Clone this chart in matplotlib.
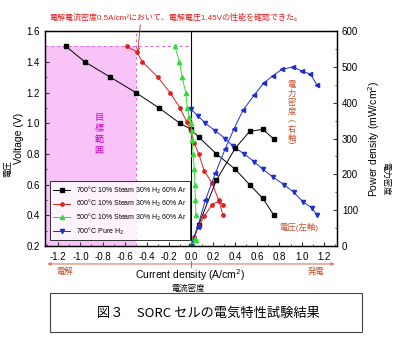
import numpy as np
import matplotlib
matplotlib.use('Agg')
import matplotlib.pyplot as plt
from matplotlib.ticker import MultipleLocator, FormatStrFormatter
from matplotlib.patches import FancyArrowPatch, Rectangle

plt.rcParams['font.family'] = ['Liberation Sans', 'Noto Sans CJK JP', 'DejaVu Sans']

# voltage curves (left axis)
x_black = [-1.13, -0.96, -0.73, -0.50, -0.29, -0.10, 0.0, 0.07, 0.23, 0.40, 0.53, 0.65, 0.75]
v_black = [1.50, 1.40, 1.30, 1.20, 1.10, 1.00, 0.96, 0.91, 0.80, 0.70, 0.60, 0.51, 0.40]
x_red = [-0.58, -0.49, -0.44, -0.30, -0.19, -0.10, -0.04, 0.0, 0.03, 0.07, 0.12, 0.19, 0.25, 0.29]
v_red = [1.50, 1.465, 1.40, 1.30, 1.20, 1.10, 1.01, 0.95, 0.87, 0.80, 0.69, 0.61, 0.50, 0.40]
x_green = [-0.145, -0.105, -0.08, -0.048, -0.033, -0.015, 0.0, 0.005, 0.01, 0.02, 0.03, 0.035, 0.04, 0.045]
v_green = [1.50, 1.40, 1.30, 1.20, 1.10, 1.04, 1.00, 0.95, 0.89, 0.80, 0.70, 0.60, 0.50, 0.40]
x_blue = [0.0, 0.06, 0.13, 0.22, 0.31, 0.38, 0.48, 0.57, 0.65, 0.74, 0.84, 0.93, 1.01, 1.09, 1.14]
v_blue = [1.09, 1.05, 1.00, 0.95, 0.90, 0.85, 0.80, 0.75, 0.70, 0.65, 0.60, 0.55, 0.49, 0.45, 0.40]

# power density curves (right axis)
xp_black = [0.0, 0.07, 0.23, 0.40, 0.53, 0.65, 0.75]
p_black = [0, 60, 184, 273, 320, 326, 298]
xp_red = [0.0, 0.03, 0.07, 0.12, 0.19, 0.25, 0.29]
p_red = [0, 26, 56, 83, 116, 125, 116]
xp_green = [0.0, 0.005, 0.01, 0.02, 0.03, 0.035, 0.04, 0.045]
p_green = [0, 5, 9, 16, 21, 21, 20, 18]
xp_blue = [0.0, 0.06, 0.13, 0.22, 0.31, 0.39, 0.47, 0.57, 0.66, 0.74, 0.82, 0.92, 1.00, 1.08, 1.14]
p_blue = [0, 54, 128, 203, 272, 328, 379, 421, 456, 475, 493, 500, 489, 480, 449]

labels = ['700°C 10% Steam 30% H$_2$ 60% Ar',
          '600°C 10% Steam 30% H$_2$ 60% Ar',
          '500°C 10% Steam 30% H$_2$ 60% Ar',
          '700°C Pure H$_2$']

fig = plt.figure(figsize=(4, 3.38), dpi=100)
ax = fig.add_axes([0.1125, 0.272, 0.73, 0.636])
ax2 = ax.twinx()

# target region
ax.fill_between([-1.32, -0.5], 0.2, 1.5, color='#f8c4f8', lw=0)
ax.plot([-1.32, 0.0], [1.5, 1.5], ls=(0, (3, 3)), color='#dd66dd', lw=0.7)
ax.plot([-0.5, -0.5], [0.2, 1.6], ls=(0, (3, 3)), color='#dd66dd', lw=0.7)
ax.axvline(0, color='black', lw=0.8)

ms = 3
lb, = ax.plot(x_black, v_black, '-s', color='black', lw=0.7, ms=ms*0.8)
lr, = ax.plot(x_red, v_red, '-o', color='#e02020', lw=0.7, ms=ms*0.8)
lg, = ax.plot(x_green, v_green, '-^', color='#30dd30', lw=0.7, ms=ms)
lbl, = ax.plot(x_blue, v_blue, '-v', color='#1f2fd0', lw=0.7, ms=ms)

ax2.plot(xp_black, p_black, '-s', color='black', lw=0.7, ms=ms*0.8)
ax2.plot(xp_red, p_red, '-o', color='#e02020', lw=0.7, ms=ms*0.8)
ax2.plot(xp_green, p_green, '-^', color='#30dd30', lw=0.7, ms=ms)
ax2.plot(xp_blue, p_blue, '-<', color='#1f2fd0', lw=0.7, ms=ms)

ax.set_xlim(-1.32, 1.32)
ax.set_ylim(0.2, 1.6)
ax2.set_ylim(0, 600)
ax.xaxis.set_major_locator(MultipleLocator(0.2))
ax.xaxis.set_minor_locator(MultipleLocator(0.1))
ax.xaxis.set_major_formatter(FormatStrFormatter('%.1f'))
ax.yaxis.set_major_locator(MultipleLocator(0.2))
ax.yaxis.set_minor_locator(MultipleLocator(0.1))
ax.yaxis.set_major_formatter(FormatStrFormatter('%.1f'))
ax2.yaxis.set_major_locator(MultipleLocator(100))
ax2.yaxis.set_minor_locator(MultipleLocator(50))
for a in (ax, ax2):
    a.tick_params(which='both', direction='in', labelsize=7, color='#333333')
    a.tick_params(which='major', length=3)
    a.tick_params(which='minor', length=1.5)
    for s in a.spines.values():
        s.set_linewidth(0.9)
ax.tick_params(axis='x', pad=4)

leg = ax2.legend([lb, lr, lg, lbl], labels, loc='upper left', bbox_to_anchor=(0.004, 0.318),
                 fontsize=5, frameon=True, fancybox=False, edgecolor='black',
                 handlelength=2.5, borderpad=0.5, labelspacing=0.35)
leg.get_frame().set_linewidth(0.7)

# annotations inside plot
ax.annotate('電解電流密度0.5A/cm²において、電解電圧1.45Vの性能を確認できた。',
            xy=(-0.48, 1.465), xytext=(-1.28, 1.66), color='#e02020', fontsize=5.8,
            annotation_clip=False, va='bottom',
            arrowprops=dict(arrowstyle='->', color='#c03030', lw=0.6,
                            relpos=(0.36, 0.0), shrinkA=0, shrinkB=0))

# vertical (stacked) texts, one character per line
for i, ch in enumerate('目標範囲'):
    ax.text(-0.83, 1.04 - i * 0.072, ch, color='#cc00cc', fontsize=6.5,
            ha='center', va='center')
for i, ch in enumerate('電力密度︵右軸︶'):
    ax2.text(0.91, 450 - i * 25, ch, color='#c8502a', fontsize=6,
             ha='center', va='center')
ax.text(0.975, 0.32, '電圧(左軸)', color='#c8502a', fontsize=6, ha='center', va='center')

# axis labels
ax.set_ylabel('Voltage (V)', fontsize=7.5, labelpad=2)
fig.text(0.022, 0.50, '電圧', rotation=90, fontsize=6, ha='center', va='center')
ax2.set_ylabel('Power density (mW/cm$^2$)', fontsize=7.5, labelpad=6)
fig.text(0.965, 0.47, '電力密度', rotation=-90, fontsize=6, ha='center', va='center')

# arrow below axis
arr = FancyArrowPatch((0.1125, 0.219), (0.8425, 0.219), transform=fig.transFigure,
                      arrowstyle='<->', mutation_scale=5, color='#c8502a', lw=0.6)
fig.patches.append(arr)
fig.add_artist(plt.Line2D([0.4775, 0.4775], [0.211, 0.227], transform=fig.transFigure,
                          color='#c8502a', lw=0.6))
fig.text(0.163, 0.196, '電解', color='#c8502a', fontsize=6, ha='center', va='center')
fig.text(0.79, 0.196, '発電', color='#c8502a', fontsize=6, ha='center', va='center')
fig.text(0.475, 0.187, 'Current density (A/cm$^2$)', fontsize=7.5, ha='center', va='center')
fig.text(0.47, 0.147, '電流密度', fontsize=6, ha='center', va='center')

# caption box
fig.patches.append(Rectangle((0.125, 0.018), 0.78, 0.115, transform=fig.transFigure,
                             fill=False, edgecolor='#444444', lw=0.8))
fig.text(0.52, 0.072, '図３　SORC セルの電気特性試験結果', fontsize=9.5,
         ha='center', va='center', family=['Noto Sans CJK JP'])

plt.savefig('out.png', dpi=100)
